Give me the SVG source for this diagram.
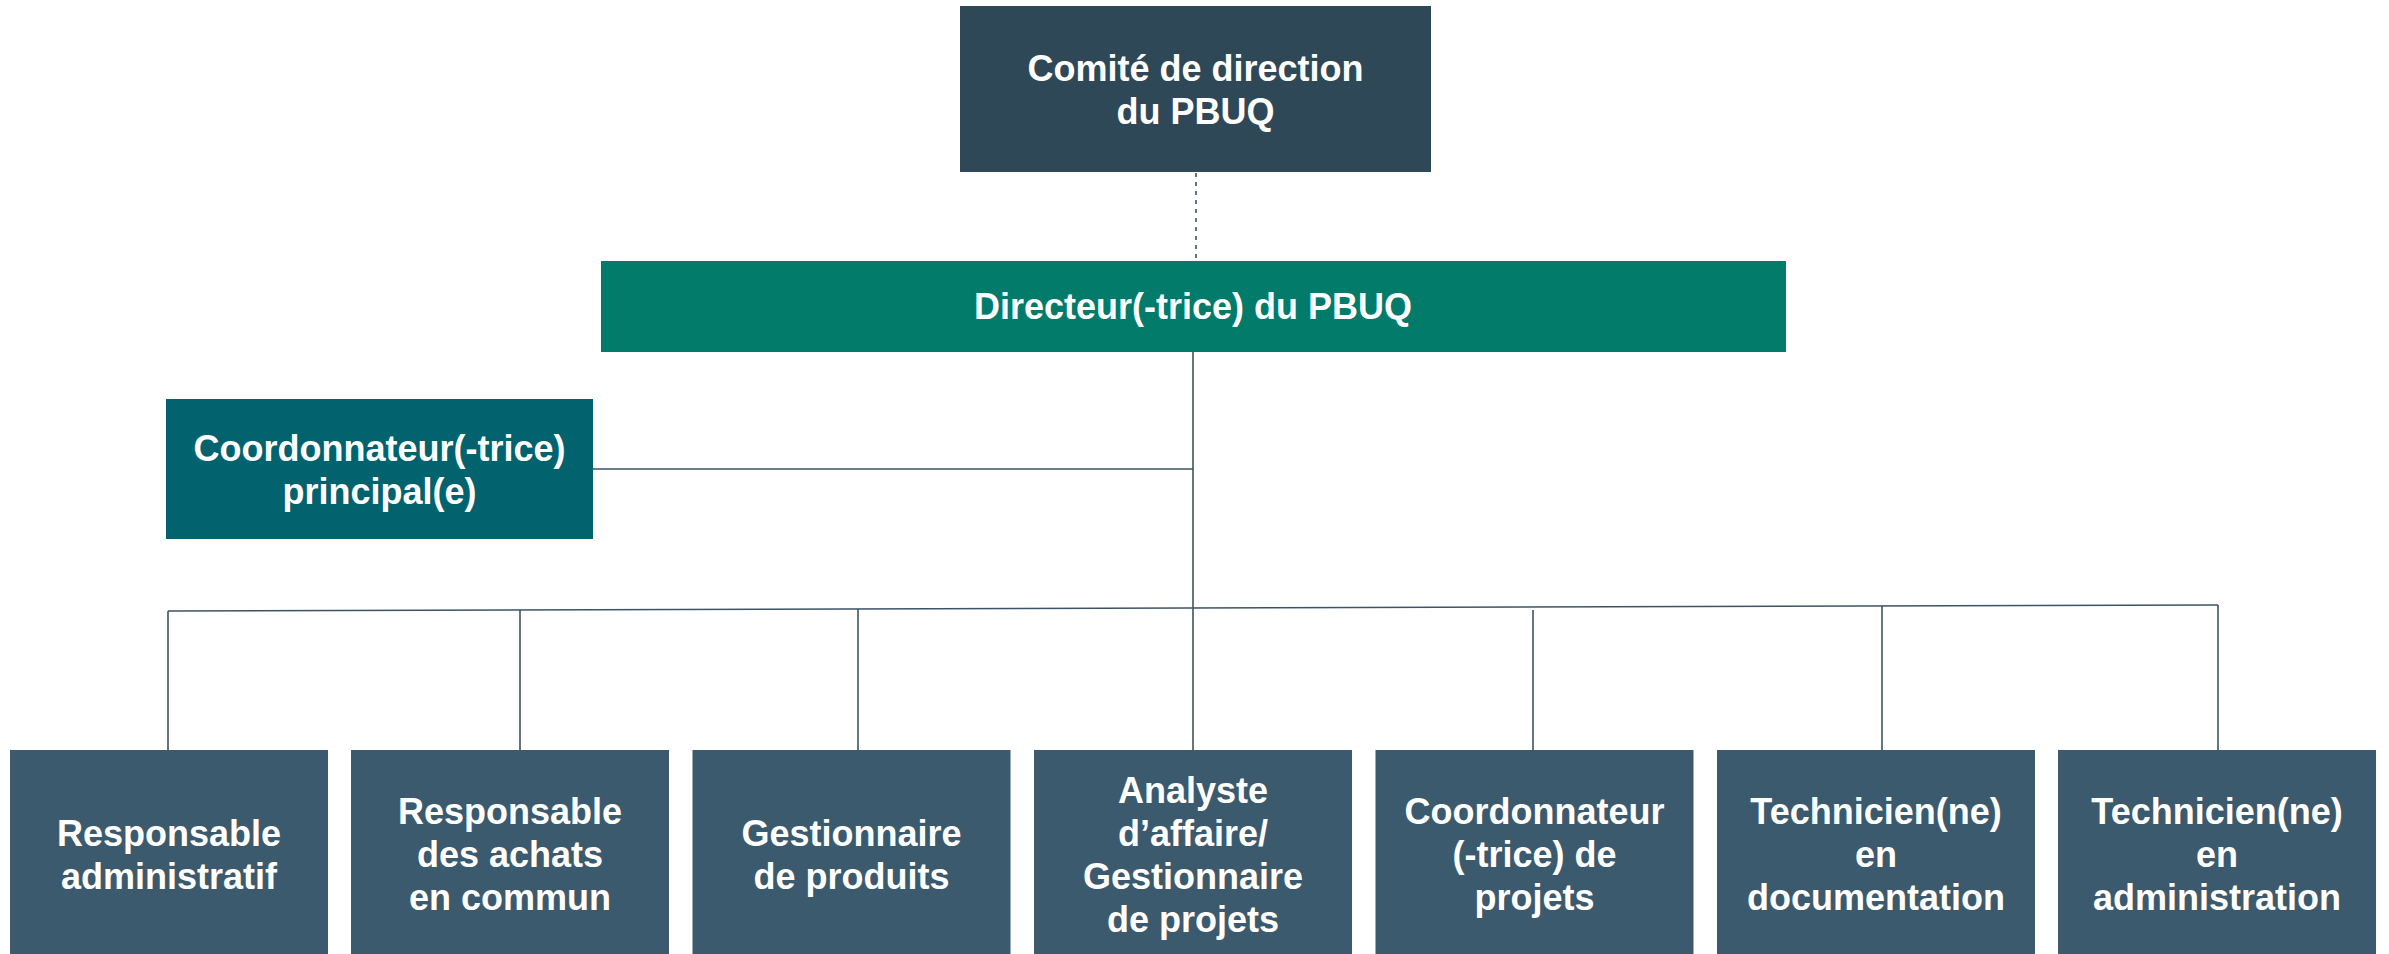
<svg xmlns="http://www.w3.org/2000/svg" width="2389" height="954" viewBox="0 0 2389 954">
<style>
.t{font-family:"Liberation Sans",Arial,sans-serif;font-weight:bold;font-size:36px;fill:#ffffff;text-anchor:middle}
.ln{stroke:#3D5366;stroke-width:1.6;fill:none}
.bx{fill:#3C5A6E}
</style>
<rect width="2389" height="954" fill="#ffffff"/>
<g id="connectors">
<line class="ln" x1="1196" y1="173" x2="1196" y2="261" stroke-dasharray="4 5"/>
<line class="ln" x1="1193" y1="352" x2="1193" y2="750"/>
<line class="ln" x1="593" y1="469" x2="1193" y2="469"/>
<line class="ln" x1="168" y1="611" x2="2218" y2="605"/>
<line class="ln" x1="168" y1="611" x2="168" y2="750"/>
<line class="ln" x1="520" y1="610" x2="520" y2="750"/>
<line class="ln" x1="858" y1="609" x2="858" y2="750"/>
<line class="ln" x1="1533" y1="610" x2="1533" y2="750"/>
<line class="ln" x1="1882" y1="606" x2="1882" y2="750"/>
<line class="ln" x1="2218" y1="605" x2="2218" y2="750"/>
</g>
<g id="comite">
<rect x="960" y="6" width="471" height="166" fill="#2F4858"/>
<text class="t" x="1195.5" y="81">Comité de direction</text>
<text class="t" x="1195.5" y="124">du PBUQ</text>
</g>
<g id="directeur">
<rect x="601" y="261" width="1185" height="91" fill="#027B6A"/>
<text class="t" x="1193" y="319">Directeur(-trice) du PBUQ</text>
</g>
<g id="coordonnateur-principal">
<rect x="166" y="399" width="427" height="140" fill="#02636F"/>
<text class="t" x="379.5" y="461">Coordonnateur(-trice)</text>
<text class="t" x="379.5" y="504">principal(e)</text>
</g>
<g id="responsable-administratif">
<rect class="bx" x="10" y="750" width="318" height="204"/>
<text class="t" x="169" y="846">Responsable</text>
<text class="t" x="169" y="889">administratif</text>
</g>
<g id="responsable-achats">
<rect class="bx" x="351" y="750" width="318" height="204"/>
<text class="t" x="510" y="824">Responsable</text>
<text class="t" x="510" y="867">des achats</text>
<text class="t" x="510" y="910">en commun</text>
</g>
<g id="gestionnaire-produits">
<rect class="bx" x="692.5" y="750" width="318" height="204"/>
<text class="t" x="851.5" y="846">Gestionnaire</text>
<text class="t" x="851.5" y="889">de produits</text>
</g>
<g id="analyste">
<rect class="bx" x="1034" y="750" width="318" height="204"/>
<text class="t" x="1193" y="803">Analyste</text>
<text class="t" x="1193" y="846">d’affaire/</text>
<text class="t" x="1193" y="889">Gestionnaire</text>
<text class="t" x="1193" y="932">de projets</text>
</g>
<g id="coordonnateur-projets">
<rect class="bx" x="1375.5" y="750" width="318" height="204"/>
<text class="t" x="1534.5" y="824">Coordonnateur</text>
<text class="t" x="1534.5" y="867">(-trice) de</text>
<text class="t" x="1534.5" y="910">projets</text>
</g>
<g id="technicien-documentation">
<rect class="bx" x="1717" y="750" width="318" height="204"/>
<text class="t" x="1876" y="824">Technicien(ne)</text>
<text class="t" x="1876" y="867">en</text>
<text class="t" x="1876" y="910">documentation</text>
</g>
<g id="technicien-administration">
<rect class="bx" x="2058" y="750" width="318" height="204"/>
<text class="t" x="2217" y="824">Technicien(ne)</text>
<text class="t" x="2217" y="867">en</text>
<text class="t" x="2217" y="910">administration</text>
</g>
</svg>
